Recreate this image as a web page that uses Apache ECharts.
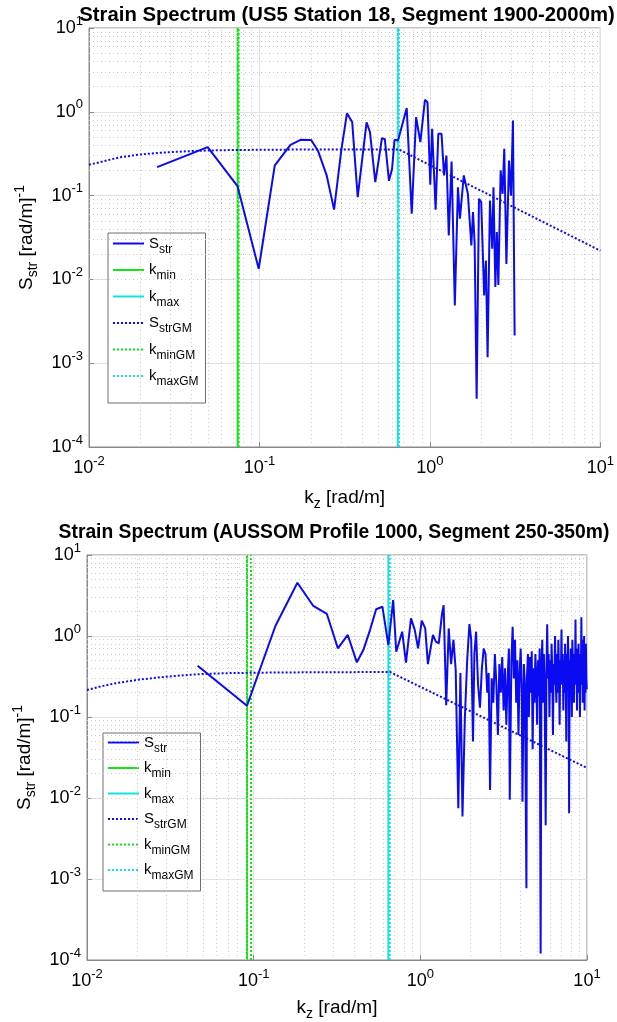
<!DOCTYPE html>
<html><head><meta charset="utf-8">
<script src="https://cdn.jsdelivr.net/npm/echarts/dist/echarts.min.js"></script>
<style>html,body{margin:0;padding:0;background:#fff}#c{width:617px;height:1022px}</style>
</head><body><div id="c"></div><script>
// ---------------- data ----------------
const titles = ['Strain Spectrum (US5 Station 18, Segment 1900-2000m)',
                'Strain Spectrum (AUSSOM Profile 1000, Segment 250-350m)'];
const legendNames = ['S_str','k_min','k_max','S_strGM','k_minGM','k_maxGM'];

// [k_z, S_str]
const topSpectrum = [[0.0251,0.219],[0.0497,0.379],[0.0743,0.130],[0.099,0.0134],[0.123,0.229],[0.152,0.404],[0.174,0.463],[0.201,0.46],[0.22,0.346],[0.248,0.174],[0.274,0.068],[0.302,0.346],[0.326,0.96],[0.35,0.753],[0.377,0.096],[0.425,0.75],[0.445,0.573],[0.478,0.145],[0.49,0.2],[0.523,0.485],[0.544,0.47],[0.575,0.15],[0.60,0.209],[0.62,0.463],[0.65,0.455],[0.731,1.107],[0.782,0.0607],[0.83,0.865],[0.879,0.435],[0.935,1.39],[0.968,1.3],[1.005,0.135],[1.03,0.627],[1.08,0.068],[1.12,0.546],[1.17,0.546],[1.21,0.174],[1.25,0.30],[1.29,0.0334],[1.34,0.255],[1.40,0.00489],[1.46,0.126],[1.50,0.053],[1.58,0.174],[1.67,0.105],[1.75,0.0254],[1.79,0.0635],[1.83,0.0268],[1.88,0.000376],[1.94,0.0916],[2.0,0.0836],[2.08,0.00645],[2.13,0.0168],[2.18,0.00118],[2.25,0.0874],[2.32,0.0232],[2.36,0.126],[2.42,0.0081],[2.47,0.0367],[2.52,0.0086],[2.6,0.2],[2.67,0.105],[2.73,0.362],[2.81,0.0153],[2.91,0.262],[2.99,0.10],[3.07,0.787],[3.14,0.00214]];

const botSpectrum = [[0.0461,0.43],[0.0912,0.138],[0.135,1.33],[0.183,4.55],[0.228,2.35],[0.275,1.87],[0.32,0.705],[0.367,1.03],[0.416,0.473],[0.455,0.67],[0.50,1.2],[0.543,2.14],[0.592,2.3],[0.643,0.774],[0.687,2.78],[0.717,0.64],[0.778,1.13],[0.82,0.468],[0.879,1.65],[0.925,1.2],[0.969,0.705],[1.02,1.55],[1.07,1.24],[1.11,0.45],[1.19,1.03],[1.24,0.85],[1.29,0.81],[1.35,1.9],[1.38,2.4],[1.43,0.14],
[1.48,1.24],[1.53,0.45],[1.58,0.9],[1.63,0.38],[1.69,0.0075],[1.74,0.35],[1.79,0.0059],[1.85,0.097],[1.91,0.5],[1.97,1.4],[2.02,0.9],[2.07,0.05],[2.11,0.6],[2.16,1.13],[2.22,0.25],[2.28,0.13],[2.34,0.4],[2.40,0.7],[2.46,0.6],[2.52,0.2],[2.57,0.35],[2.62,0.0126],[2.68,0.3],[2.74,0.15],[2.80,0.6],[2.86,0.25],[2.92,0.06],[2.98,0.45],[3.04,0.2],[3.10,0.55],[3.16,0.12],[3.22,0.4],[3.28,0.08],[3.34,0.3],[3.40,0.7],[3.44,0.0095],[3.52,0.5],[3.58,1.3],[3.64,0.3],[3.70,0.9],[3.76,0.15],[3.82,0.5],[3.88,0.06],[3.94,0.35],[4.00,0.7],[4.06,0.2],[4.10,0.009],[4.18,0.45],[4.24,0.25],[4.33,0.00077],[4.36,0.3],[4.42,0.6],[4.48,0.1],[4.54,0.55],[4.60,0.2],[4.66,0.65],[4.72,0.04],[4.78,0.4],[4.84,0.15],[4.90,0.6],[4.96,0.3],[5.02,0.08],[5.08,0.5],[5.14,0.18],[5.20,0.7],[5.27,0.00012],[5.33,0.4],[5.39,0.9],[5.45,0.15],[5.51,0.6],[5.57,0.25],[5.65,0.0046],[5.71,0.35],[5.77,1.4],[5.83,0.3],[5.89,0.6],[5.95,0.1],[6.01,0.5],[6.07,0.2],[6.13,0.8],[6.19,0.35],[6.25,0.06],[6.31,0.45],[6.37,0.25],[6.43,1.0],[6.49,0.3],[6.55,0.15],[6.61,0.6],[6.67,0.2],[6.73,0.9],[6.79,0.4],[6.85,0.08],[6.91,0.5],[6.97,0.3],[7.03,1.2],[7.09,0.25],[7.15,0.6],[7.21,0.12],[7.27,0.5],[7.33,0.2],[7.39,0.8],[7.45,0.35],[7.51,0.05],[7.57,0.6],[7.63,0.25],[7.69,1.0],[7.75,0.4],[7.81,0.0065],[7.87,0.5],[7.93,0.2],[7.99,0.7],[8.05,0.3],[8.11,0.1],[8.17,0.9],[8.23,0.4],[8.29,0.6],[8.35,0.15],[8.41,0.5],[8.47,0.25],[8.53,1.6],[8.59,0.3],[8.65,0.7],[8.71,0.12],[8.77,0.5],[8.83,0.2],[8.89,0.8],[8.95,0.35],[9.01,0.6],[9.07,0.1],[9.13,0.5],[9.19,0.25],[9.25,1.7],[9.31,0.4],[9.37,0.9],[9.43,0.15],[9.49,0.6],[9.55,0.3],[9.61,1.0],[9.67,0.12],[9.73,0.5],[9.79,0.2],[9.85,0.8],[9.91,0.3],[9.97,0.22]];

// Garrett-Munk reference spectra
const topGM = [[0.01,0.233],[0.012,0.255],[0.015,0.285],[0.02,0.31],[0.025,0.322],[0.03,0.33],[0.04,0.34],[0.05,0.345],[0.07,0.35],[0.1,0.352],[0.2,0.355],[0.4,0.355],[0.658,0.355],[10,0.022]];
const botGM = [[0.01,0.215],[0.012,0.238],[0.015,0.262],[0.02,0.287],[0.025,0.303],[0.03,0.315],[0.04,0.33],[0.05,0.34],[0.07,0.348],[0.1,0.352],[0.2,0.356],[0.4,0.358],[0.656,0.36],[10,0.0235]];

// cut-off wavenumbers: [k_min, k_max, k_minGM, k_maxGM]
const topCutoffs = [0.0745, 0.648, 0.0755, 0.658];
const botCutoffs = [0.0912, 0.643, 0.0964, 0.656];

const xTicks = [0.01, 0.1, 1, 10];
const yTicks = [1e-4, 1e-3, 1e-2, 1e-1, 1, 10];

// ---------------- drawing ----------------
const FONT = '"Liberation Sans", Arial, Helvetica, sans-serif';
const BLUE = '#0b0bf2', GREEN = '#12e612', CYAN = '#14e2e2';
const AXIS = '#8a8a8a';

const minorX = [], minorY = [];
for (let d = -2; d < 1; d++) for (let m = 2; m <= 9; m++) minorX.push(m * Math.pow(10, d));
for (let d = -4; d < 1; d++) for (let m = 2; m <= 9; m++) minorY.push(m * Math.pow(10, d));

const expLabel = v => '10{sup|' + Math.round(Math.log10(v)) + '}';
const labelRich = { sup: { fontSize: 13, padding: [0, 0, 14, 0], fontFamily: FONT, color: '#000' } };

const grids = [
  { left: 89, top: 28, width: 514, height: 419 },
  { left: 87, top: 555, width: 500, height: 405 }
];

function xAxis(i, gap) {
  return {
    type: 'log', logBase: 10, min: xTicks[0], max: xTicks[xTicks.length - 1], gridIndex: i,
    axisLine: { show: true, lineStyle: { color: AXIS, width: 1 } },
    axisTick: { show: true, inside: true, length: 5, lineStyle: { color: AXIS } },
    splitLine: { show: true, lineStyle: { color: '#e2e2e2', width: 1 } },
    axisLabel: { formatter: expLabel, fontSize: 18, color: '#000', fontFamily: FONT, margin: 8, rich: labelRich },
    name: 'k{sub|z} [rad/m]', nameLocation: 'middle', nameGap: gap,
    nameTextStyle: { fontSize: 19, color: '#000', fontFamily: FONT,
      rich: { sub: { fontSize: 14, padding: [13, 0, 0, 0], fontFamily: FONT, color: '#000' } } }
  };
}
function yAxis(i) {
  return {
    type: 'log', logBase: 10, min: yTicks[0], max: yTicks[yTicks.length - 1], gridIndex: i,
    axisLine: { show: true, lineStyle: { color: AXIS, width: 1 } },
    axisTick: { show: true, inside: true, length: 5, lineStyle: { color: AXIS } },
    splitLine: { show: true, lineStyle: { color: '#e2e2e2', width: 1 } },
    axisLabel: { formatter: expLabel, fontSize: 18, color: '#000', fontFamily: FONT, margin: 6, rich: labelRich },
    name: 'S{sub|str} [rad/m]{sup|-1}', nameLocation: 'middle', nameGap: 45,
    nameTextStyle: { fontSize: 19, color: '#000', fontFamily: FONT,
      rich: { sub: { fontSize: 14, padding: [13, 0, 0, 0], fontFamily: FONT, color: '#000' },
              sup: { fontSize: 14, padding: [0, 0, 13, 0], fontFamily: FONT, color: '#000' } } }
  };
}

function seriesFor(i, spec, gm, cut) {
  const ax = { xAxisIndex: i, yAxisIndex: i, symbol: 'none', showSymbol: false, animation: false };
  const vline = k => [[k, yTicks[0]], [k, yTicks[yTicks.length - 1]]];
  return [
    Object.assign({}, ax, { name: '_grid', type: 'line', data: [[xTicks[0], yTicks[0]]], z: 1,
      lineStyle: { width: 0 }, silent: true,
      markLine: { silent: true, symbol: ['none', 'none'], label: { show: false }, animation: false,
        lineStyle: { type: [1, 3], color: '#cbcbcb', width: 1 },
        data: minorX.map(v => ({ xAxis: v })).concat(minorY.map(v => ({ yAxis: v }))) } }),
    Object.assign({}, ax, { name: 'S_str', type: 'line', data: spec, z: 6,
      lineStyle: { color: BLUE, width: 2 }, itemStyle: { color: BLUE } }),
    Object.assign({}, ax, { name: 'k_min', type: 'line', data: vline(cut[0]), z: 4,
      lineStyle: { color: GREEN, width: 2 }, itemStyle: { color: GREEN } }),
    Object.assign({}, ax, { name: 'k_max', type: 'line', data: vline(cut[1]), z: 4,
      lineStyle: { color: CYAN, width: 2 }, itemStyle: { color: CYAN } }),
    Object.assign({}, ax, { name: 'S_strGM', type: 'line', data: gm, z: 5,
      lineStyle: { color: BLUE, width: 2, type: [2, 2] }, itemStyle: { color: BLUE } }),
    Object.assign({}, ax, { name: 'k_minGM', type: 'line', data: vline(cut[2]), z: 4,
      lineStyle: { color: GREEN, width: 2, type: [2, 2] }, itemStyle: { color: GREEN } }),
    Object.assign({}, ax, { name: 'k_maxGM', type: 'line', data: vline(cut[3]), z: 4,
      lineStyle: { color: CYAN, width: 2, type: [2, 2] }, itemStyle: { color: CYAN } })
  ];
}

function legend(left, top, pad, gap) {
  return {
    data: legendNames, orient: 'vertical', left: left, top: top,
    itemWidth: 31, itemHeight: 10, itemGap: gap, padding: pad,
    backgroundColor: '#fff', borderColor: '#6e6e6e', borderWidth: 1, borderRadius: 0,
    selectedMode: false,
    itemStyle: { opacity: 0, color: 'rgba(0,0,0,0)', borderWidth: 0 },
    formatter: n => { const p = n.split('_'); return p[0] + '{s|' + p[1] + '}'; },
    textStyle: { fontSize: 15, color: '#000', fontFamily: FONT,
      rich: { s: { fontSize: 12, padding: [12, 0, 0, 0], fontFamily: FONT, color: '#000' } } }
  };
}

const chart = echarts.init(document.getElementById('c'), null, { renderer: 'canvas' });
chart.setOption({
  animation: false,
  backgroundColor: '#fff',
  title: [
    { text: titles[0], left: 347, top: 5, textAlign: 'center', padding: 0,
      textStyle: { fontSize: 20.3, fontWeight: 'bold', color: '#000', fontFamily: FONT } },
    { text: titles[1], left: 334, top: 523, textAlign: 'center', padding: 0,
      textStyle: { fontSize: 19.3, fontWeight: 'bold', color: '#000', fontFamily: FONT } }
  ],
  legend: [ legend(108, 233, [3, 7, 15, 4], 7), legend(103, 733, [2, 7, 9, 4], 6) ],
  grid: grids.map(g => Object.assign({ show: true, borderColor: AXIS, borderWidth: 1 }, g)),
  xAxis: [xAxis(0, 37), xAxis(1, 34)],
  yAxis: [yAxis(0), yAxis(1)],
  series: seriesFor(0, topSpectrum, topGM, topCutoffs).concat(seriesFor(1, botSpectrum, botGM, botCutoffs))
});
</script></body></html>
